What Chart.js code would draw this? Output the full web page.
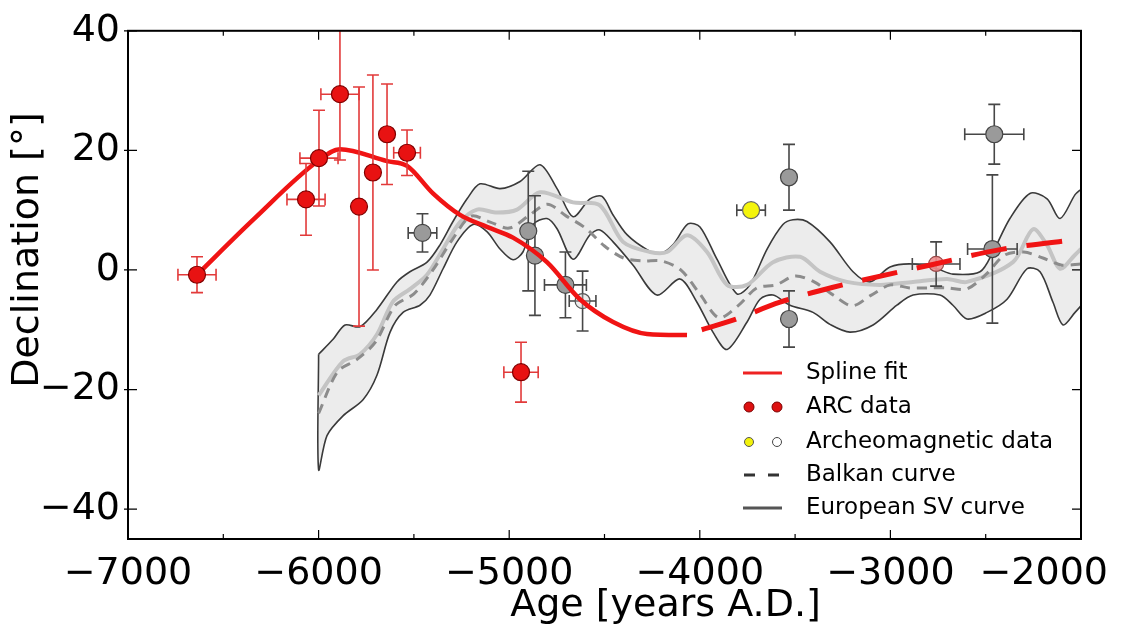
<!DOCTYPE html>
<html>
<head>
<meta charset="utf-8">
<script src="https://cdn.jsdelivr.net/npm/chart.js@4.4.1/dist/chart.umd.min.js"></script>
<style>
  html, body { margin: 0; padding: 0; background: #fff; }
</style>
</head>
<body>
<canvas id="chart" width="1124" height="628"></canvas>
<script>
// axis ticks
const xTicks = [-7000, -6000, -5000, -4000, -3000, -2000];
const xMinorTicks = [-6500, -5500, -4500, -3500, -2500];
const yTicks = [-40, -20, 0, 20, 40];

// ARC data (red points)
const arcAge    = [-6638, -6066, -5998, -5888, -5788, -5715, -5641, -5536, -4938];
const arcDec    = [-0.8, 11.8, 18.7, 29.4, 10.6, 16.3, 22.7, 19.6, -17.1];
const arcAgeErr = [100, 100, 100, 100, 0, 0, 0, 70, 90];
const arcDecErr = [3, 6, 8, 11, 20, 16.3, 8.4, 3.8, 5];

// archeomagnetic data (grey points)
const grayAge    = [-5455, -4900, -4865, -4705, -3532, -3532, -2455, -2465];
const grayDec    = [6.2, 6.5, 2.4, -2.5, 15.5, -8.2, 22.7, 3.5];
const grayAgeErr = [75, 0, 0, 110, 0, 0, 155, 130];
const grayDecErr = [3.2, 10, 10, 5.5, 5.5, 4.7, 5, 12.4];

// archeomagnetic data (yellow point)
const yellowAge = [-3731];
const yellowDec = [10.0];
const yellowAgeErr = [75];
const yellowDecErr = [0];

// archeomagnetic data (open points)
const openAge    = [-4615, -2760];
const openDec    = [-5.2, 1.0];
const openAgeErr = [70, 125];
const openDecErr = [5, 3.7];

// spline fit
const splineAge  = [-6638, -6340, -6000, -5888, -5641, -5536, -5400, -5258, -5117, -4980, -4802, -4629, -4455, -4277, -4067];
const splineDec  = [-0.8, 8.5, 18.3, 20.2, 18.2, 17.4, 12.8, 9.2, 7.2, 5.4, 1.3, -4.9, -8.7, -10.7, -10.9];
const splineAge2 = [-3990, -3826, -3579, -3301, -2766, -2425, -2000];
const splineDec2 = [-10.0, -8.4, -5.4, -2.9, 1.0, 3.4, 5.2];

// European SV curve: envelope
const svUpperAge = [-6000, -5924, -5861, -5783, -5694, -5589, -5521, -5431, -5363, -5295, -5221, -5153, -5048, -4943, -4838, -4749, -4665, -4576, -4513, -4455, -4382, -4277, -4209, -4141, -4062, -3999, -3910, -3805, -3737, -3647, -3564, -3511, -3438, -3317, -3196, -3107, -3002, -2881, -2756, -2672, -2530, -2462, -2373, -2268, -2178, -2110, -2031, -2000];
const svUpper    = [-14.1, -11.6, -9.2, -9.5, -6.6, -2.0, -0.3, 1.3, 4.2, 8.1, 11.9, 14.4, 13.6, 14.8, 17.6, 13.6, 8.9, 11.9, 12.3, 9.2, 5.9, 3.4, 2.7, 4.2, 7.7, 7.2, 1.8, -4.0, -2.5, 3.5, 7.6, 8.4, 8.1, 4.7, -0.3, -2.0, 0.5, 1.0, 0.2, -0.7, -0.3, 3.0, 8.6, 12.8, 11.9, 8.6, 12.6, 13.5];
const svLowerAge = [-6000, -6000, -5956, -5872, -5767, -5694, -5625, -5557, -5468, -5416, -5347, -5274, -5190, -5117, -5048, -4980, -4928, -4875, -4802, -4749, -4665, -4576, -4524, -4455, -4350, -4225, -4104, -4015, -3931, -3857, -3752, -3684, -3616, -3527, -3406, -3317, -3212, -3091, -2966, -2881, -2740, -2672, -2598, -2493, -2388, -2283, -2215, -2147, -2094, -2031, -2000];
const svLower    = [-14.1, -33.4, -27.7, -24.4, -21.7, -17.6, -10.4, -7.1, -5.9, -4.2, 0.2, 4.7, 7.6, 6.4, 3.5, 1.7, 3.0, 7.6, 8.6, 6.9, 1.8, 5.9, 6.7, 4.7, 0.8, -4.2, -1.5, -5.4, -10.4, -13.3, -8.7, -4.9, -4.2, -5.9, -7.1, -9.1, -10.4, -9.2, -5.9, -4.2, -4.2, -5.9, -8.2, -7.1, -4.9, 0.2, -0.3, -5.4, -9.2, -7.1, -6.0];

// European SV curve: mean
const svMeanAge = [-6000, -5872, -5783, -5694, -5610, -5521, -5431, -5347, -5258, -5169, -5064, -4959, -4838, -4665, -4524, -4403, -4261, -4172, -4067, -3962, -3857, -3752, -3616, -3474, -3369, -3228, -3055, -2882, -2703, -2598, -2357, -2252, -2179, -2110, -2032, -2000];
const svMean    = [-21, -15.3, -14.1, -10.8, -5.3, -3.2, -0.8, 3.5, 8, 10.1, 9.6, 10.1, 13, 11.3, 10.8, 4.7, 3, 3, 5.8, 3, -2.5, -2.5, 1.3, 2.2, -0.3, -2, -2.5, -2, -1.5, -2, 1.3, 6.8, 4.2, 0.2, 2.5, 3.5];

// Balkan curve
const balkanAge = [-6000, -5900, -5800, -5700, -5600, -5500, -5400, -5300, -5200, -5100, -5000, -4900, -4800, -4700, -4600, -4500, -4400, -4300, -4200, -4100, -4000, -3900, -3800, -3700, -3600, -3500, -3400, -3300, -3200, -3100, -3000, -2900, -2800, -2700, -2600, -2500, -2400, -2300, -2200, -2100, -2000];
const balkanDec = [-24, -17, -15, -12, -6, -4, 0, 5, 9, 8, 7, 9, 11, 9, 7, 4, 2, 1.5, 1.5, 0, -4, -8, -6, -3, -2.5, -1, -2, -4.2, -6, -4.2, -2.5, -3, -3, -3, -3.2, -0.8, 2.5, 3, 2, 0.8, 1];

const FONT = 'DejaVu Sans';
Chart.defaults.font.family = FONT;

const pts = (xs, ys) => xs.map((x, i) => ({ x: x, y: ys[i] }));
const fmt = v => (v < 0 ? '\u2212' + Math.abs(v) : String(v));

// error bars, drawn just before the points of a dataset
const errorBars = {
  id: 'errorBars',
  beforeDatasetDraw(chart, args) {
    const ds = chart.data.datasets[args.index];
    if (!ds.errX) return;
    const { ctx, chartArea: a } = chart;
    const x = chart.scales.x, y = chart.scales.y;
    const cap = 6;
    ctx.save();
    ctx.beginPath();
    ctx.rect(a.left, a.top, a.right - a.left, a.bottom - a.top);
    ctx.clip();
    ctx.strokeStyle = ds.errColor;
    ctx.lineWidth = 1.6;
    ds.data.forEach((p, i) => {
      const px = x.getPixelForValue(p.x), py = y.getPixelForValue(p.y);
      const ex = ds.errX[i], ey = ds.errY[i];
      ctx.beginPath();
      if (ey) {
        const y0 = y.getPixelForValue(p.y - ey), y1 = y.getPixelForValue(p.y + ey);
        ctx.moveTo(px, y0); ctx.lineTo(px, y1);
        ctx.moveTo(px - cap, y0); ctx.lineTo(px + cap, y0);
        ctx.moveTo(px - cap, y1); ctx.lineTo(px + cap, y1);
      }
      if (ex) {
        const x0 = x.getPixelForValue(p.x - ex), x1 = x.getPixelForValue(p.x + ex);
        ctx.moveTo(x0, py); ctx.lineTo(x1, py);
        ctx.moveTo(x0, py - cap); ctx.lineTo(x0, py + cap);
        ctx.moveTo(x1, py - cap); ctx.lineTo(x1, py + cap);
      }
      ctx.stroke();
    });
    ctx.restore();
  }
};

// frame, inward ticks, x tick labels, axis titles and legend
const decorations = {
  id: 'decorations',
  afterDraw(chart) {
    const { ctx, chartArea: a, width } = chart;
    const x = chart.scales.x, y = chart.scales.y;
    ctx.save();
    ctx.strokeStyle = '#000';
    ctx.lineWidth = 2;
    ctx.strokeRect(a.left, a.top, a.right - a.left, a.bottom - a.top);

    ctx.lineWidth = 1.2;
    ctx.beginPath();
    xTicks.forEach(v => {
      const px = x.getPixelForValue(v);
      ctx.moveTo(px, a.bottom); ctx.lineTo(px, a.bottom - 9);
      ctx.moveTo(px, a.top); ctx.lineTo(px, a.top + 9);
    });
    xMinorTicks.forEach(v => {
      const px = x.getPixelForValue(v);
      ctx.moveTo(px, a.bottom); ctx.lineTo(px, a.bottom - 5);
      ctx.moveTo(px, a.top); ctx.lineTo(px, a.top + 5);
    });
    yTicks.forEach(v => {
      const py = y.getPixelForValue(v);
      ctx.moveTo(a.left - 4, py); ctx.lineTo(a.left + 9, py);
      ctx.moveTo(a.right, py); ctx.lineTo(a.right - 9, py);
    });
    ctx.stroke();

    // x tick labels (kept inside the canvas)
    ctx.fillStyle = '#000';
    ctx.font = '38px "' + FONT + '"';
    ctx.textAlign = 'center';
    ctx.textBaseline = 'middle';
    xTicks.forEach(v => {
      const label = fmt(v);
      const half = ctx.measureText(label).width / 2;
      let px = x.getPixelForValue(v);
      if (px + half > width - 16) px = width - 16 - half;
      ctx.fillText(label, px, a.bottom + 35);
    });

    // axis titles
    ctx.fillText('Age [years A.D.]', (a.left + a.right) / 2 + 61, 606);
    ctx.save();
    ctx.translate(28, 250);
    ctx.rotate(-Math.PI / 2);
    ctx.fillText('Declination [\u00b0]', 0, 0);
    ctx.restore();

    // legend
    const lx0 = 743, lx1 = 782, tx = 806;
    const rows = [373, 407, 442, 475, 508];
    ctx.font = '23px "' + FONT + '"';
    ctx.textAlign = 'left';
    const labels = ['Spline fit', 'ARC data', 'Archeomagnetic data', 'Balkan curve', 'European SV curve'];
    labels.forEach((t, i) => ctx.fillText(t, tx, rows[i]));

    ctx.lineCap = 'butt';
    ctx.strokeStyle = '#ee2222';
    ctx.lineWidth = 3;
    ctx.beginPath(); ctx.moveTo(lx0, rows[0]); ctx.lineTo(lx1, rows[0]); ctx.stroke();

    const dot = (cx, cy, r, fill, stroke) => {
      ctx.beginPath(); ctx.arc(cx, cy, r, 0, Math.PI * 2);
      ctx.fillStyle = fill; ctx.fill();
      ctx.lineWidth = 1; ctx.strokeStyle = stroke; ctx.stroke();
    };
    dot(749, rows[1], 5, '#dd1111', '#7a0000');
    dot(777, rows[1], 5, '#dd1111', '#7a0000');
    dot(749, rows[2], 4.5, '#f2f20a', '#555');
    dot(777, rows[2], 4.5, '#ffffff', '#444');

    ctx.strokeStyle = '#333';
    ctx.lineWidth = 3;
    ctx.beginPath();
    ctx.moveTo(744, rows[3]); ctx.lineTo(755, rows[3]);
    ctx.moveTo(768, rows[3]); ctx.lineTo(779, rows[3]);
    ctx.stroke();
    ctx.strokeStyle = '#555';
    ctx.beginPath(); ctx.moveTo(lx0, rows[4]); ctx.lineTo(lx1, rows[4]); ctx.stroke();
    ctx.restore();
  }
};

const lineDs = (data, opts) => Object.assign({
  data: data, pointRadius: 0, fill: false, tension: 0.3, borderCapStyle: 'butt'
}, opts);

const pointDs = (data, opts) => Object.assign({
  data: data, showLine: false, pointRadius: 8.5, pointBorderWidth: 1.2
}, opts);

new Chart(document.getElementById('chart'), {
  type: 'line',
  data: {
    datasets: [
      lineDs(pts(svUpperAge, svUpper), { borderColor: '#3a3a3a', borderWidth: 1.6, fill: 1, backgroundColor: 'rgba(0,0,0,0.075)', order: 9 }),
      lineDs(pts(svLowerAge, svLower), { borderColor: '#3a3a3a', borderWidth: 1.6, order: 8 }),
      lineDs(pts(svMeanAge, svMean), { borderColor: '#c4c4c4', borderWidth: 4, order: 7 }),
      lineDs(pts(balkanAge, balkanDec), { borderColor: '#8c8c8c', borderWidth: 3, borderDash: [10, 7], order: 6 }),
      pointDs(pts(grayAge, grayDec), {
        backgroundColor: '#9a9a9a', borderColor: '#444', order: 5,
        errX: grayAgeErr, errY: grayDecErr, errColor: '#474747'
      }),
      pointDs(pts(yellowAge, yellowDec), {
        backgroundColor: '#f4f40c', borderColor: '#666', order: 4,
        errX: yellowAgeErr, errY: yellowDecErr, errColor: '#474747'
      }),
      pointDs(pts(openAge, openDec), {
        pointRadius: 7.5,
        backgroundColor: ['rgba(200,200,200,0.35)', 'rgba(240,140,140,0.9)'], borderColor: ['#555', '#9a4a4a'], order: 3,
        errX: openAgeErr, errY: openDecErr, errColor: '#474747'
      }),
      lineDs(pts(splineAge, splineDec), { borderColor: '#f01414', borderWidth: 4.5, cubicInterpolationMode: 'monotone', order: 2 }),
      lineDs(pts(splineAge2, splineDec2), { borderColor: '#f01414', borderWidth: 5, borderDash: [36, 20], cubicInterpolationMode: 'monotone', order: 2 }),
      pointDs(pts(arcAge, arcDec), {
        backgroundColor: '#e81212', borderColor: '#800000', order: 1,
        errX: arcAgeErr, errY: arcDecErr, errColor: '#e23a3a'
      })
    ]
  },
  options: {
    responsive: false,
    animation: false,
    devicePixelRatio: 1,
    layout: { padding: { top: 27, right: 43, bottom: 0, left: 0 } },
    plugins: { legend: { display: false }, tooltip: { enabled: false } },
    scales: {
      x: {
        type: 'linear', min: -7000, max: -2000,
        grid: { display: false, drawTicks: false },
        border: { display: false },
        ticks: { display: false },
        afterBuildTicks: s => { s.ticks = xTicks.map(v => ({ value: v })); },
        afterFit: s => { s.height = 89; }
      },
      y: {
        type: 'linear', min: -45, max: 40,
        grid: { display: false, drawTicks: false },
        border: { display: false },
        ticks: { color: '#000', padding: 8, font: { size: 38 }, callback: v => fmt(v) },
        afterBuildTicks: s => { s.ticks = yTicks.map(v => ({ value: v })); },
        afterFit: s => { s.width = 128; }
      }
    }
  },
  plugins: [errorBars, decorations]
});
</script>
</body>
</html>
